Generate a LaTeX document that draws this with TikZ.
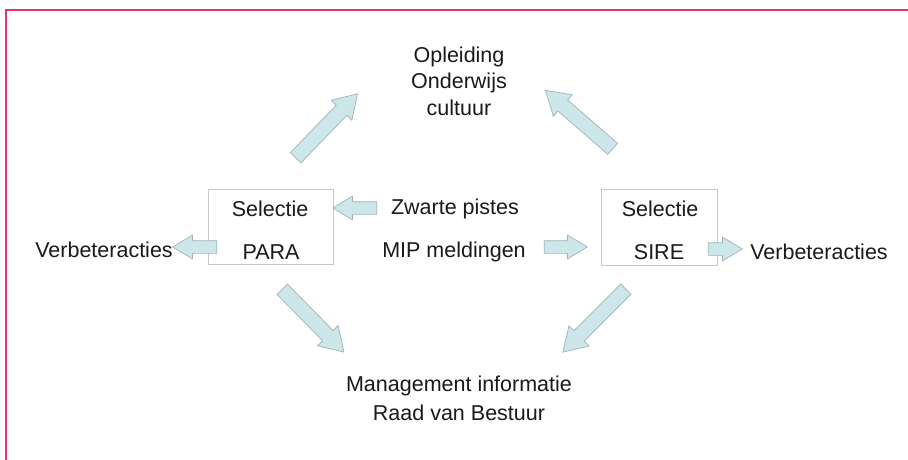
\documentclass[tikz,border=0pt]{standalone}
\usepackage{fontspec}
\setmainfont{Liberation Sans}
\usetikzlibrary{shapes.arrows}
\definecolor{framepink}{HTML}{E8336F}
\definecolor{arrowfill}{HTML}{CDE6EA}
\definecolor{arrowline}{HTML}{9EB4B8}
\definecolor{boxline}{HTML}{C8C8C8}
\definecolor{txt}{HTML}{1A1A1A}
\begin{document}
\begin{tikzpicture}[x=1pt,y=-1pt,
  lbl/.style={inner sep=0pt, text=txt, font=\fontsize{21.5}{27}\selectfont, align=center},
  selbox/.style={draw=boxline, line width=0.9pt, inner sep=0pt},
  harrow/.style={single arrow, draw=arrowline, fill=arrowfill, line width=0.7pt,
    inner xsep=0pt, inner ysep=6pt, text height=0pt, text depth=0pt, text width=0pt,
    single arrow head extend=5.5pt, single arrow tip angle=62, minimum height=#1},
  darrow/.style={single arrow, draw=arrowline, fill=arrowfill, line width=0.7pt,
    inner xsep=0pt, inner ysep=7pt, text height=0pt, text depth=0pt, text width=0pt,
    single arrow head extend=7pt, single arrow tip angle=64, minimum height=#1}]
\useasboundingbox (0,0) rectangle (908,460);
\fill[white] (0,0) rectangle (908,460);
\draw[framepink, line width=2pt] (908,10) -- (5.5,10) -- (5.5,460);

% boxes
\node[selbox, minimum width=125pt, minimum height=75pt] (boxL) at (270.5,226.5) {};
\node[selbox, minimum width=116pt, minimum height=76pt] (boxR) at (659,227) {};

% texts
\node[lbl, font=\fontsize{21.5}{26.5}\selectfont] (top) at (459,81) {Opleiding\\Onderwijs\\cultuur};
\node[lbl] (selL) at (270,209) {Selectie};
\node[lbl] (para) at (271,252) {PARA};
\node[lbl] (selR) at (660,209) {Selectie};
\node[lbl] (sire) at (659,252) {SIRE};
\node[lbl] (zwarte) at (455,209) {Zwarte pistes};
\node[lbl] (mip) at (454,252) {MIP meldingen};
\node[lbl] (verbL) at (104,250) {Verbeteracties};
\node[lbl] (verbR) at (819,252) {Verbeteracties};
\node[lbl, font=\fontsize{21.5}{29}\selectfont] (mgmt) at (459,398) {Management informatie\\Raad van Bestuur};

% horizontal arrows
\node[harrow=44pt, rotate=180] (a1) at (360,208) {};
\node[harrow=43pt] (a2) at (560.5,247) {};
\node[harrow=44pt, rotate=180] (a3) at (200,247) {};
\node[harrow=34pt] (a4) at (720,249) {};

% diagonal arrows
\node[darrow=89pt, rotate=46] (d1) at (322.5,130) {};
\node[darrow=89pt, rotate=139] (d2) at (583.5,123.5) {};
\node[darrow=88pt, rotate=-45.5] (d3) at (309,316.5) {};
\node[darrow=89pt, rotate=-135] (d4) at (598.5,316.5) {};
\end{tikzpicture}
\end{document}
